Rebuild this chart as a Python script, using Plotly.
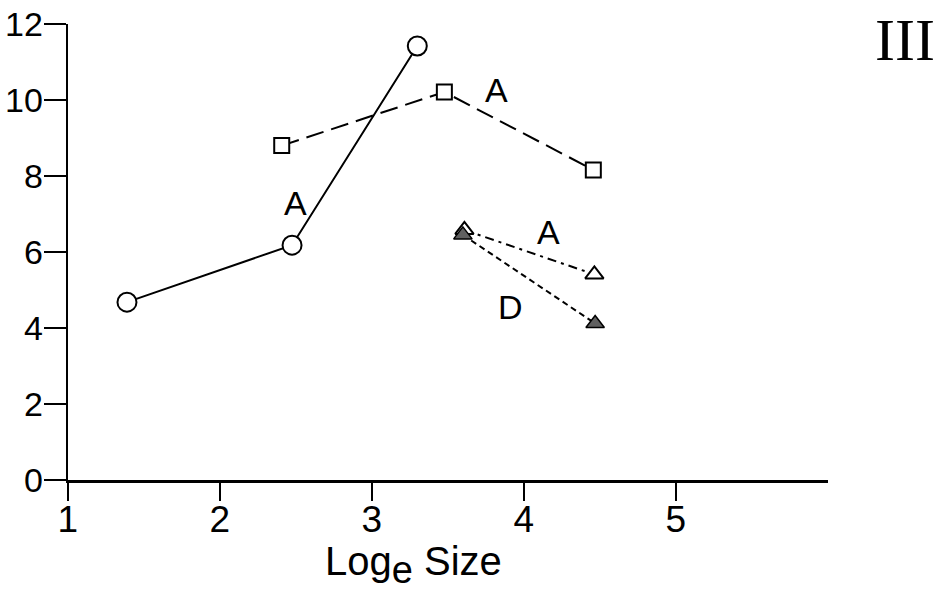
import plotly.graph_objects as go

# ---- data ----
circle_x = [1.39, 2.476, 3.30]
circle_y = [4.68, 6.18, 11.42]

square_x = [2.408, 3.478, 4.458]
square_y = [8.80, 10.21, 8.16]

open_tri_x = [3.61, 4.465]
open_tri_y = [6.58, 5.41]

filled_tri_x = [3.60, 4.47]
filled_tri_y = [6.45, 4.12]

label_texts = ["A", "A", "A", "D"]
label_x = [2.50, 3.82, 4.166, 3.916]
label_y = [7.29, 10.26, 6.53, 4.56]

x_ticks = [1, 2, 3, 4, 5]
y_ticks = [0, 2, 4, 6, 8, 10, 12]

W, H = 934, 592
FONT = "Liberation Sans"

fig = go.Figure()

fig.add_trace(go.Scatter(
    x=square_x, y=square_y, mode="lines+markers",
    line=dict(color="black", width=2, dash="18px,8px"),
    marker=dict(symbol="square", size=15, color="white",
                line=dict(color="black", width=2)),
    showlegend=False, cliponaxis=False))

fig.add_trace(go.Scatter(
    x=circle_x, y=circle_y, mode="lines+markers",
    line=dict(color="black", width=2),
    marker=dict(symbol="circle", size=19, color="white",
                line=dict(color="black", width=2)),
    showlegend=False, cliponaxis=False))

fig.add_trace(go.Scatter(
    x=open_tri_x, y=open_tri_y, mode="lines+markers",
    line=dict(color="black", width=2, dash="9px,5px,3px,5px"),
    marker=dict(symbol="triangle-up", size=16, color="white",
                line=dict(color="black", width=2)),
    showlegend=False, cliponaxis=False))

fig.add_trace(go.Scatter(
    x=filled_tri_x, y=filled_tri_y, mode="lines+markers",
    line=dict(color="black", width=2, dash="6px,4px"),
    marker=dict(symbol="triangle-up", size=16, color="#606060",
                line=dict(color="black", width=1.5)),
    showlegend=False, cliponaxis=False))

annotations = []
for t, lx, ly in zip(label_texts, label_x, label_y):
    annotations.append(dict(x=lx, y=ly, xref="x", yref="y", text=t,
                            showarrow=False,
                            font=dict(family=FONT, size=34, color="black"),
                            xanchor="center", yanchor="middle"))

# axis title
annotations.append(dict(x=413 / W, y=(H - 565) / H, xref="paper", yref="paper",
                        text="Log<sub><span style=\"font-size:38px\">e</span></sub> Size",
                        showarrow=False,
                        font=dict(family=FONT, size=40, color="black"),
                        xanchor="center", yanchor="middle"))

# roman numeral panel label
annotations.append(dict(x=873 / W, y=(H - 40) / H, xref="paper", yref="paper",
                        text="III", showarrow=False,
                        font=dict(family="Liberation Serif", size=60, color="black"),
                        xanchor="left", yanchor="middle"))

x0_px, unit_px = 67.7, 152.0
fig.update_layout(
    width=W, height=H,
    margin=dict(l=0, r=0, t=0, b=0, autoexpand=False),
    paper_bgcolor="white", plot_bgcolor="white",
    annotations=annotations,
    xaxis=dict(
        domain=[x0_px / W, (x0_px + 5 * unit_px) / W],
        range=[1, 6],
        tickvals=x_ticks, ticktext=[str(v) for v in x_ticks],
        ticks="outside", ticklen=18, tickwidth=2, tickcolor="black",
        showline=True, linecolor="black", linewidth=2.5,
        showgrid=False, zeroline=False, automargin=False,
        tickfont=dict(family=FONT, size=37, color="black"),
        ticklabelstandoff=-13,
    ),
    yaxis=dict(
        domain=[(H - 480) / H, (H - 24) / H],
        range=[0, 12],
        tickvals=y_ticks, ticktext=[str(v) for v in y_ticks],
        ticks="outside", ticklen=22, tickwidth=2, tickcolor="black",
        showline=True, linecolor="black", linewidth=2,
        showgrid=False, zeroline=False, automargin=False,
        tickfont=dict(family=FONT, size=34, color="black"),
        ticklabelstandoff=-6,
    ),
)

fig.write_html("out.html")
